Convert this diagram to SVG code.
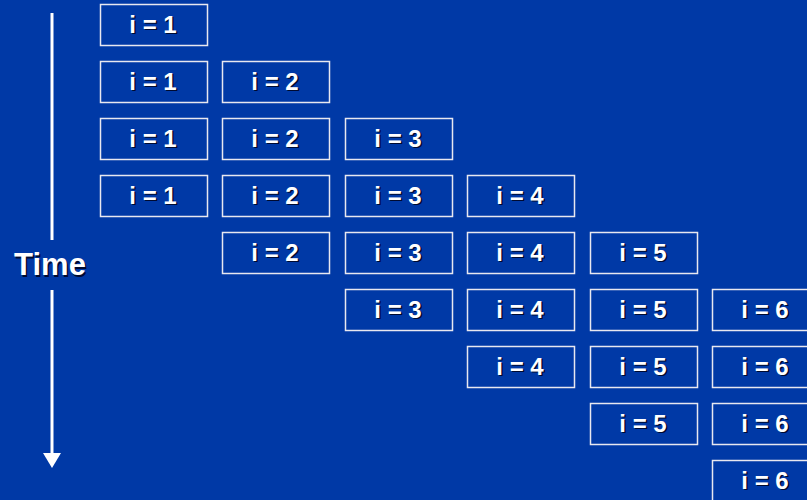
<svg xmlns="http://www.w3.org/2000/svg" width="807" height="500" viewBox="0 0 807 500">
<defs>
<style>
.b rect{fill:none;stroke:#E8E8F0;stroke-width:1.5}
.t{font-family:"Liberation Sans",Arial,sans-serif;font-weight:bold;font-size:24px;text-anchor:middle}
.s{fill:#000A30}
.w{fill:#FFFFFF}
</style>
</defs>
<rect width="807" height="500" fill="#0039A6"/>
<g id="connectors">
<line x1="52" y1="13" x2="52" y2="240" stroke="#FFFFFF" stroke-width="3"/>
<line x1="52" y1="290" x2="52" y2="455" stroke="#FFFFFF" stroke-width="3"/>
<polygon points="43,453 61,453 52,468" fill="#FFFFFF"/>
</g>
<g id="time-label" class="t" style="font-size:31px">
<text x="51.5" y="276.5" class="s">Time</text>
<text x="50" y="275" class="w">Time</text>
</g>
<g id="r0c0" class="b"><rect x="100.5" y="4.5" width="107" height="41"/><g class="t"><text x="154.5" y="34" class="s">i = 1</text><text x="153" y="32.5" class="w">i = 1</text></g></g>

<g id="r1c0" class="b"><rect x="100.5" y="61.5" width="107" height="41"/><g class="t"><text x="154.5" y="91" class="s">i = 1</text><text x="153" y="89.5" class="w">i = 1</text></g></g>
<g id="r1c1" class="b"><rect x="222.5" y="61.5" width="107" height="41"/><g class="t"><text x="276.5" y="91" class="s">i = 2</text><text x="275" y="89.5" class="w">i = 2</text></g></g>

<g id="r2c0" class="b"><rect x="100.5" y="118.5" width="107" height="41"/><g class="t"><text x="154.5" y="148" class="s">i = 1</text><text x="153" y="146.5" class="w">i = 1</text></g></g>
<g id="r2c1" class="b"><rect x="222.5" y="118.5" width="107" height="41"/><g class="t"><text x="276.5" y="148" class="s">i = 2</text><text x="275" y="146.5" class="w">i = 2</text></g></g>
<g id="r2c2" class="b"><rect x="345.5" y="118.5" width="107" height="41"/><g class="t"><text x="399.5" y="148" class="s">i = 3</text><text x="398" y="146.5" class="w">i = 3</text></g></g>

<g id="r3c0" class="b"><rect x="100.5" y="175.5" width="107" height="41"/><g class="t"><text x="154.5" y="205" class="s">i = 1</text><text x="153" y="203.5" class="w">i = 1</text></g></g>
<g id="r3c1" class="b"><rect x="222.5" y="175.5" width="107" height="41"/><g class="t"><text x="276.5" y="205" class="s">i = 2</text><text x="275" y="203.5" class="w">i = 2</text></g></g>
<g id="r3c2" class="b"><rect x="345.5" y="175.5" width="107" height="41"/><g class="t"><text x="399.5" y="205" class="s">i = 3</text><text x="398" y="203.5" class="w">i = 3</text></g></g>
<g id="r3c3" class="b"><rect x="467.5" y="175.5" width="107" height="41"/><g class="t"><text x="521.5" y="205" class="s">i = 4</text><text x="520" y="203.5" class="w">i = 4</text></g></g>

<g id="r4c1" class="b"><rect x="222.5" y="232.5" width="107" height="41"/><g class="t"><text x="276.5" y="262" class="s">i = 2</text><text x="275" y="260.5" class="w">i = 2</text></g></g>
<g id="r4c2" class="b"><rect x="345.5" y="232.5" width="107" height="41"/><g class="t"><text x="399.5" y="262" class="s">i = 3</text><text x="398" y="260.5" class="w">i = 3</text></g></g>
<g id="r4c3" class="b"><rect x="467.5" y="232.5" width="107" height="41"/><g class="t"><text x="521.5" y="262" class="s">i = 4</text><text x="520" y="260.5" class="w">i = 4</text></g></g>
<g id="r4c4" class="b"><rect x="590.5" y="232.5" width="107" height="41"/><g class="t"><text x="644.5" y="262" class="s">i = 5</text><text x="643" y="260.5" class="w">i = 5</text></g></g>

<g id="r5c2" class="b"><rect x="345.5" y="289.5" width="107" height="41"/><g class="t"><text x="399.5" y="319" class="s">i = 3</text><text x="398" y="317.5" class="w">i = 3</text></g></g>
<g id="r5c3" class="b"><rect x="467.5" y="289.5" width="107" height="41"/><g class="t"><text x="521.5" y="319" class="s">i = 4</text><text x="520" y="317.5" class="w">i = 4</text></g></g>
<g id="r5c4" class="b"><rect x="590.5" y="289.5" width="107" height="41"/><g class="t"><text x="644.5" y="319" class="s">i = 5</text><text x="643" y="317.5" class="w">i = 5</text></g></g>
<g id="r5c5" class="b"><rect x="712.5" y="289.5" width="107" height="41"/><g class="t"><text x="766.5" y="319" class="s">i = 6</text><text x="765" y="317.5" class="w">i = 6</text></g></g>

<g id="r6c3" class="b"><rect x="467.5" y="346.5" width="107" height="41"/><g class="t"><text x="521.5" y="376" class="s">i = 4</text><text x="520" y="374.5" class="w">i = 4</text></g></g>
<g id="r6c4" class="b"><rect x="590.5" y="346.5" width="107" height="41"/><g class="t"><text x="644.5" y="376" class="s">i = 5</text><text x="643" y="374.5" class="w">i = 5</text></g></g>
<g id="r6c5" class="b"><rect x="712.5" y="346.5" width="107" height="41"/><g class="t"><text x="766.5" y="376" class="s">i = 6</text><text x="765" y="374.5" class="w">i = 6</text></g></g>

<g id="r7c4" class="b"><rect x="590.5" y="403.5" width="107" height="41"/><g class="t"><text x="644.5" y="433" class="s">i = 5</text><text x="643" y="431.5" class="w">i = 5</text></g></g>
<g id="r7c5" class="b"><rect x="712.5" y="403.5" width="107" height="41"/><g class="t"><text x="766.5" y="433" class="s">i = 6</text><text x="765" y="431.5" class="w">i = 6</text></g></g>

<g id="r8c5" class="b"><rect x="712.5" y="460.5" width="107" height="41"/><g class="t"><text x="766.5" y="490" class="s">i = 6</text><text x="765" y="488.5" class="w">i = 6</text></g></g>
</svg>
